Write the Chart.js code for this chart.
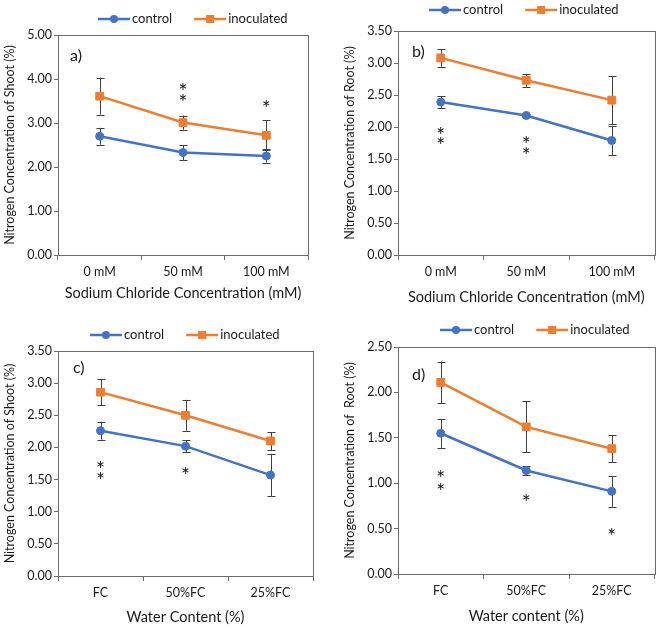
<!DOCTYPE html>
<html>
<head>
<meta charset="utf-8">
<script src="https://cdn.jsdelivr.net/npm/chart.js@4.4.1/dist/chart.umd.min.js"></script>
<style>
  body { margin: 0; background: #fff; }
  #wrap { position: relative; width: 661px; height: 629px; overflow: hidden; }
  #wrap canvas { position: absolute; }
</style>
</head>
<body>
<div id="wrap">
  <canvas id="pa" width="330" height="310" style="left:0;top:0"></canvas>
  <canvas id="pb" width="331" height="310" style="left:330px;top:0"></canvas>
  <canvas id="pc" width="330" height="314" style="left:0;top:315px"></canvas>
  <canvas id="pd" width="331" height="314" style="left:330px;top:315px"></canvas>
</div>
<script>
// ---- data ----
const saltCats  = ["0 mM", "50 mM", "100 mM"];
const waterCats = ["FC", "50%FC", "25%FC"];

// a) shoot N, salinity
const shootSaltCtrl    = [2.70, 2.33, 2.25];
const shootSaltCtrlErr = [0.19, 0.17, 0.15];
const shootSaltInoc    = [3.61, 3.01, 2.72];
const shootSaltInocErr = [0.42, 0.16, 0.34];
const shootSaltStars   = [[], [3.79, 3.54], [3.40]];

// b) root N, salinity
const rootSaltCtrl    = [2.39, 2.18, 1.79];
const rootSaltCtrlErr = [0.09, 0.03, 0.23];
const rootSaltInoc    = [3.08, 2.73, 2.42];
const rootSaltInocErr = [0.14, 0.10, 0.38];
const rootSaltStars   = [[1.92, 1.76], [1.77, 1.60], []];

// c) shoot N, water
const shootWaterCtrl    = [2.26, 2.02, 1.57];
const shootWaterCtrlErr = [0.14, 0.09, 0.33];
const shootWaterInoc    = [2.86, 2.50, 2.10];
const shootWaterInocErr = [0.20, 0.24, 0.14];
const shootWaterStars   = [[1.71, 1.54], [1.61], []];

// d) root N, water
const rootWaterCtrl    = [1.55, 1.14, 0.91];
const rootWaterCtrlErr = [0.16, 0.05, 0.17];
const rootWaterInoc    = [2.11, 1.62, 1.38];
const rootWaterInocErr = [0.23, 0.28, 0.15];
const rootWaterStars   = [[1.09, 0.95], [0.82], [0.45]];

const BLUE = "#4472C4";
const ORANGE = "#ED7D31";
const FONT = "Lato, 'Liberation Sans', sans-serif";
const el = (id) => document.getElementById(id);

// error bars (drawn under the lines/markers)
const errorBars = {
  id: "errorBars",
  beforeDatasetsDraw(chart){
    const {ctx, scales:{x, y}} = chart;
    ctx.save();
    ctx.strokeStyle = "#404040";
    ctx.lineWidth = 1;
    chart.data.datasets.forEach(ds => {
      ds.data.forEach((v, i) => {
        const e = ds.err[i];
        const px = Math.round(x.getPixelForValue(i)) + 0.5;
        const top = y.getPixelForValue(v + e);
        const bot = y.getPixelForValue(v - e);
        ctx.beginPath();
        ctx.moveTo(px, top); ctx.lineTo(px, bot);
        ctx.moveTo(px - 4, Math.round(top) + 0.5); ctx.lineTo(px + 4, Math.round(top) + 0.5);
        ctx.moveTo(px - 4, Math.round(bot) + 0.5); ctx.lineTo(px + 4, Math.round(bot) + 0.5);
        ctx.stroke();
      });
    });
    ctx.restore();
  }
};

// box, stars, panel letter, excel style legend
const decor = {
  id: "decor",
  afterDraw(chart){
    const o = chart.options.plugins.decor;
    const {ctx, chartArea:a, scales:{x, y}} = chart;
    ctx.save();
    ctx.strokeStyle = "#6b6b6b";
    ctx.lineWidth = 1;
    ctx.strokeRect(Math.round(a.left) + 0.5, Math.round(a.top) + 0.5,
                   Math.round(a.right - a.left), Math.round(a.bottom - a.top));

    ctx.fillStyle = "#1a1a1a";
    ctx.font = "21px " + FONT;
    ctx.textAlign = "center";
    ctx.textBaseline = "middle";
    o.stars.forEach((list, i) => {
      list.forEach(v => {
        ctx.fillText("*", x.getPixelForValue(i), y.getPixelForValue(v) + 4);
      });
    });

    ctx.font = "16px " + FONT;
    ctx.textAlign = "left";
    ctx.fillText(o.letter, a.left + o.letterDx, a.top + o.letterDy);

    // legend
    ctx.font = "13px " + FONT;
    let lx = o.legendX;
    const ly = o.legendY;
    chart.data.datasets.forEach(ds => {
      ctx.strokeStyle = ds.borderColor;
      ctx.fillStyle = ds.borderColor;
      ctx.lineWidth = 2.5;
      ctx.beginPath(); ctx.moveTo(lx, ly); ctx.lineTo(lx + 32, ly); ctx.stroke();
      if (ds.pointStyle === "rect") ctx.fillRect(lx + 12, ly - 4, 8, 8);
      else { ctx.beginPath(); ctx.arc(lx + 16, ly, 4, 0, Math.PI * 2); ctx.fill(); }
      ctx.fillStyle = "#1a1a1a";
      ctx.fillText(ds.label, lx + 34, ly);
      lx += 34 + ctx.measureText(ds.label).width + 22;
    });
    ctx.restore();
  }
};

function makePanel(p){
  new Chart(el(p.canvas).getContext("2d"), {
    type: "line",
    data: {
      labels: p.cats,
      datasets: [
        { label: "control", data: p.ctrl, err: p.ctrlErr, borderColor: BLUE, backgroundColor: BLUE,
          borderWidth: 2.5, pointStyle: "circle", pointRadius: 4, pointBorderWidth: 1, tension: 0 },
        { label: "inoculated", data: p.inoc, err: p.inocErr, borderColor: ORANGE, backgroundColor: ORANGE,
          borderWidth: 2.5, pointStyle: "rect", pointRadius: 5.5, pointBorderWidth: 1, tension: 0 }
      ]
    },
    options: {
      responsive: false,
      animation: false,
      layout: { padding: { top: p.padTop, right: p.padRight, left: 0, bottom: 0 } },
      plugins: {
        legend: { display: false },
        tooltip: { enabled: false },
        decor: { stars: p.stars, letter: p.letter, letterDx: p.letterDx, letterDy: p.letterDy,
                 legendX: p.legendX, legendY: p.legendY }
      },
      scales: {
        x: {
          offset: true,
          grid: { display: true, offset: true, drawOnChartArea: false, drawTicks: true, tickLength: 5, color: "#6b6b6b" },
          border: { display: true, color: "#6b6b6b" },
          ticks: { color: "#1a1a1a", font: { family: FONT, size: 12.5 }, padding: 4, maxRotation: 0 },
          title: { display: true, text: p.xTitle, color: "#1a1a1a", font: { family: FONT, size: 14.5 },
                   padding: { top: 0, bottom: p.xTitlePad } },
          afterFit(s){ s.height = p.xHeight; }
        },
        y: {
          min: 0, max: p.yMax,
          ticks: { stepSize: p.yStep, color: "#1a1a1a", font: { family: FONT, size: 12.5 }, padding: 2,
                   callback: v => v.toFixed(2) },
          grid: { display: true, drawOnChartArea: false, drawTicks: true, tickLength: 4, color: "#6b6b6b" },
          border: { display: true, color: "#6b6b6b" },
          title: { display: true, text: p.yTitle, color: "#1a1a1a", font: { family: FONT, size: 12.5 },
                   padding: { top: p.yTitlePad, bottom: 0 } },
          afterFit(s){ s.width = p.yWidth; }
        }
      }
    },
    plugins: [errorBars, decor]
  });
}

makePanel({ canvas: "pa", cats: saltCats, ctrl: shootSaltCtrl, ctrlErr: shootSaltCtrlErr,
  inoc: shootSaltInoc, inocErr: shootSaltInocErr, stars: shootSaltStars,
  yMax: 5, yStep: 1, yTitle: "Nitrogen Concentration of Shoot (%)",
  xTitle: "Sodium Chloride Concentration (mM)", letter: "a)", letterDx: 12, letterDy: 21,
  legendX: 98, legendY: 19, padTop: 35, padRight: 22, yWidth: 58, xHeight: 55, xTitlePad: 8, yTitlePad: 2 });

makePanel({ canvas: "pb", cats: saltCats, ctrl: rootSaltCtrl, ctrlErr: rootSaltCtrlErr,
  inoc: rootSaltInoc, inocErr: rootSaltInocErr, stars: rootSaltStars,
  yMax: 3.5, yStep: 0.5, yTitle: "Nitrogen Concentration of Root (%)",
  xTitle: "Sodium Chloride Concentration (mM)", letter: "b)", letterDx: 14, letterDy: 21,
  legendX: 99, legendY: 10, padTop: 31, padRight: 6, yWidth: 68, xHeight: 55, xTitlePad: 4, yTitlePad: 12 });

makePanel({ canvas: "pc", cats: waterCats, ctrl: shootWaterCtrl, ctrlErr: shootWaterCtrlErr,
  inoc: shootWaterInoc, inocErr: shootWaterInocErr, stars: shootWaterStars,
  yMax: 3.5, yStep: 0.5, yTitle: "Nitrogen Concentration of Shoot (%)",
  xTitle: "Water Content (%)", letter: "c)", letterDx: 15, letterDy: 17,
  legendX: 90, legendY: 20, padTop: 36, padRight: 17, yWidth: 58, xHeight: 53, xTitlePad: 3, yTitlePad: 2 });

makePanel({ canvas: "pd", cats: waterCats, ctrl: rootWaterCtrl, ctrlErr: rootWaterCtrlErr,
  inoc: rootWaterInoc, inocErr: rootWaterInocErr, stars: rootWaterStars,
  yMax: 2.5, yStep: 0.5, yTitle: "Nitrogen Concentration of  Root (%)",
  xTitle: "Water content (%)", letter: "d)", letterDx: 14, letterDy: 28,
  legendX: 110, legendY: 15, padTop: 32, padRight: 2, yWidth: 68, xHeight: 55, xTitlePad: 4, yTitlePad: 12 });
</script>
</body>
</html>
